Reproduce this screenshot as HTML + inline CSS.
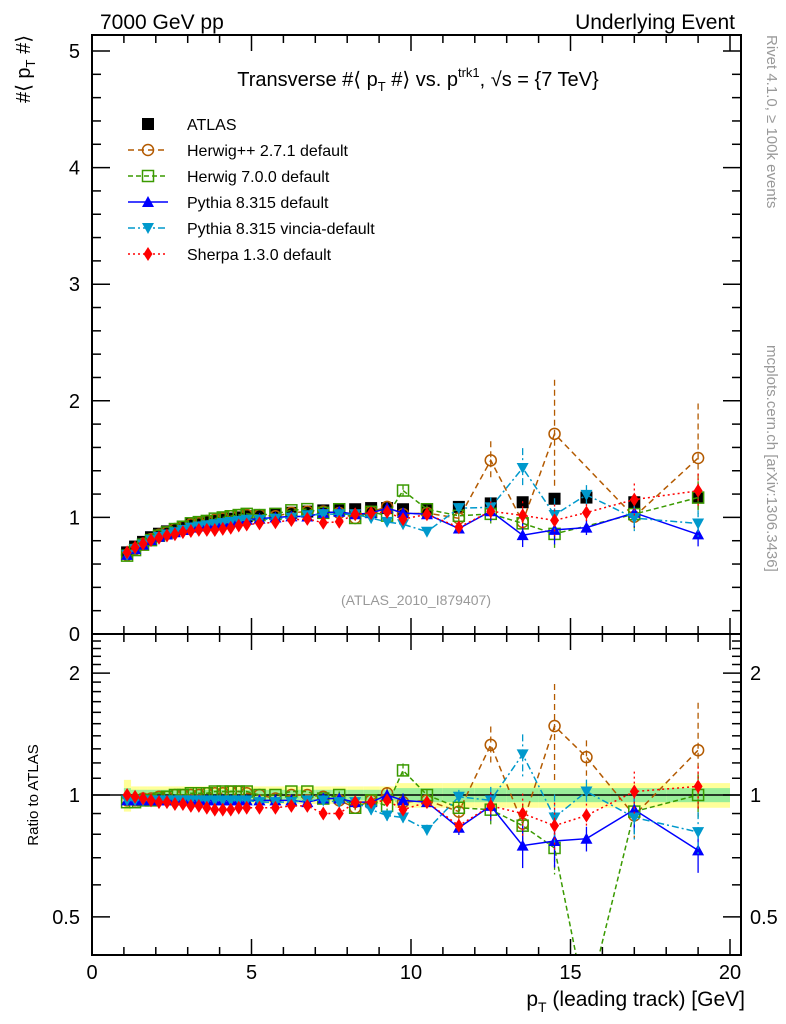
<!DOCTYPE html>
<html><head><meta charset="utf-8">
<style>
body{margin:0;background:#fff;}
svg{display:block;font-family:"Liberation Sans",sans-serif;}
</style></head><body>
<svg id="c" width="786" height="1024" xmlns="http://www.w3.org/2000/svg">
<text x="100" y="29" font-size="21">7000 GeV pp</text>
<text x="735" y="29" font-size="21" text-anchor="end">Underlying Event</text>
<text x="418" y="86" font-size="20" text-anchor="middle">Transverse #⟨ p<tspan font-size="13" dy="5">T</tspan><tspan dy="-5"> #⟩ vs. p</tspan><tspan font-size="13" dy="-9">trk1</tspan><tspan dy="9">, √s = {7 TeV}</tspan></text>
<text transform="translate(30,35) rotate(-90)" font-size="20" text-anchor="end">#⟨ p<tspan font-size="13" dy="5">T</tspan><tspan dy="-5"> #⟩</tspan></text>
<text transform="translate(38,795) rotate(-90)" font-size="15" text-anchor="middle">Ratio to ATLAS</text>
<text transform="translate(767,35) rotate(90)" font-size="15" fill="#999">Rivet 4.1.0, ≥ 100k events</text>
<text transform="translate(767,345) rotate(90)" font-size="15" fill="#999">mcplots.cern.ch [arXiv:1306.3436]</text>
<text x="416" y="605" font-size="14" fill="#999" text-anchor="middle">(ATLAS_2010_I879407)</text>
<text x="745" y="1006" font-size="21" text-anchor="end">p<tspan font-size="14" dy="6">T</tspan><tspan dy="-6"> (leading track) [GeV]</tspan></text>
<g id="g"></g>
</svg>
<script>
const xs=[1.1,1.35,1.6,1.85,2.1,2.35,2.6,2.85,3.1,3.35,3.6,3.85,4.1,4.35,4.6,4.85,5.25,5.75,6.25,6.75,7.25,7.75,8.25,8.75,9.25,9.75,10.5,11.5,12.5,13.5,14.5,15.5,17,19];
const atlas=[0.70,0.75,0.79,0.83,0.86,0.88,0.90,0.92,0.94,0.95,0.96,0.97,0.98,0.99,1.00,1.01,1.02,1.03,1.04,1.05,1.06,1.07,1.07,1.08,1.08,1.07,1.07,1.09,1.12,1.13,1.16,1.17,1.13,1.17];
const rHpp=[0.97,0.97,0.98,0.98,0.99,0.99,1.0,1.0,1.0,1.0,1.01,1.01,1.01,1.02,1.02,1.01,1.0,0.98,1.0,1.0,0.99,0.97,0.93,0.97,1.01,0.96,0.97,0.91,1.33,0.85,1.48,1.24,0.89,1.29];
const rH7=[0.96,0.96,0.97,0.97,0.98,0.99,1.0,1.0,1.01,1.01,1.01,1.02,1.02,1.02,1.02,1.02,1.0,1.0,1.02,1.02,0.98,1.0,0.93,0.97,0.94,1.15,1.0,0.93,0.92,0.84,0.74,0.3,0.91,1.0];
const rPy=[0.97,0.97,0.97,0.97,0.97,0.97,0.97,0.97,0.97,0.97,0.97,0.97,0.97,0.97,0.97,0.97,0.97,0.97,0.97,0.96,0.98,0.98,0.96,0.96,1.0,0.97,0.96,0.83,0.94,0.75,0.77,0.78,0.92,0.73];
const rVi=[0.97,0.97,0.97,0.97,0.97,0.97,0.97,0.97,0.97,0.97,0.97,0.97,0.97,0.97,0.97,0.97,0.96,0.96,0.96,0.97,0.97,0.96,0.96,0.92,0.89,0.88,0.82,0.99,0.97,1.26,0.88,1.02,0.88,0.81];
const rSh=[1.0,0.99,0.98,0.97,0.96,0.96,0.95,0.95,0.94,0.94,0.93,0.92,0.92,0.92,0.93,0.93,0.93,0.93,0.94,0.94,0.90,0.90,0.96,0.96,0.97,0.92,0.96,0.84,0.94,0.90,0.84,0.89,1.02,1.05];
const errs=[0.01,0.01,0.01,0.01,0.01,0.01,0.01,0.01,0.01,0.01,0.01,0.01,0.01,0.01,0.01,0.01,0.01,0.01,0.01,0.01,0.02,0.02,0.02,0.03,0.03,0.04,0.03,0.04,0.08,0.12,0.14,0.07,0.12,0.12];
const bigErrs=[0,0,0,0,0,0,0,0,0,0,0,0,0,0,0,0,0,0,0,0,0,0,0,0,0,0,0,0,0.11,0,0.27,0.1,0,0.31];
const xTicks=[0,5,10,15,20];
const yTicks=[0,1,2,3,4,5];
const rTicks=[0.5,1,2];

const NS="http://www.w3.org/2000/svg",G=document.getElementById('g');
const L=92,R=741,T=35,MB=634,RB=955;
const X=v=>L+31.9*v;
const Y=v=>MB-116.6*v;
const RY=v=>795-405*Math.log10(v);
function el(t,a,p){const e=document.createElementNS(NS,t);for(const k in a)e.setAttribute(k,a[k]);(p||G).appendChild(e);return e;}
const clipM=el('clipPath',{id:'cm'});el('rect',{x:L,y:T,width:R-L,height:MB-T},clipM);
const clipR=el('clipPath',{id:'cr'});el('rect',{x:L,y:MB,width:R-L,height:RB-MB},clipR);
const band=el('g',{'clip-path':'url(#cr)'});


for(let i=0;i<xs.length;i++){
 const lo=i==0?1.0:(xs[i-1]+xs[i])/2, hi=i==xs.length-1?20:(xs[i]+xs[i+1])/2;
 const ey=i==0?0.09:(i<25?0.05:0.07), eg=i==0?0.04:(i<25?0.03:0.04);
 el('rect',{x:X(lo),y:RY(1+ey),width:X(hi)-X(lo),height:RY(1-ey)-RY(1+ey),fill:'#ffff99'},band);
 el('rect',{x:X(lo),y:RY(1+eg),width:X(hi)-X(lo),height:RY(1-eg)-RY(1+eg),fill:'#99ee99'},band);
}
el('line',{x1:L,x2:R,y1:795,y2:795,stroke:'#000','stroke-width':1.5});
const series=[
 {n:'herwigpp',r:rHpp,c:'#b35a00',d:'6,4',m:'circ',lab:'Herwig++ 2.7.1 default',skip:[31],big:true},
 {n:'herwig7',r:rH7,c:'#3a9a00',d:'5,3',m:'osq',lab:'Herwig 7.0.0 default',skip:[31]},
 {n:'pythia',r:rPy,c:'#0000ff',d:'',m:'tri',lab:'Pythia 8.315 default',skip:[]},
 {n:'vincia',r:rVi,c:'#0099cc',d:'7,3,2,3',m:'dtri',lab:'Pythia 8.315 vincia-default',skip:[]},
 {n:'sherpa',r:rSh,c:'#ff0000',d:'2,3',m:'dia',lab:'Sherpa 1.3.0 default',skip:[]}];
function marker(m,x,y,c,p,name){
 let e;
 if(m=='circ')e=el('circle',{cx:x,cy:y,r:5.5,fill:'none',stroke:c,'stroke-width':1.5},p);
 else if(m=='osq')e=el('rect',{x:x-5.5,y:y-5.5,width:11,height:11,fill:'none',stroke:c,'stroke-width':1.5},p);
 else if(m=='sq')e=el('rect',{x:x-6,y:y-6,width:12,height:12,fill:c},p);
 else if(m=='tri')e=el('polygon',{points:`${x},${y-6} ${x-6},${y+5} ${x+6},${y+5}`,fill:c},p);
 else if(m=='dtri')e=el('polygon',{points:`${x},${y+6} ${x-6},${y-5} ${x+6},${y-5}`,fill:c},p);
 else e=el('polygon',{points:`${x},${y-7} ${x-4.5},${y} ${x},${y+7} ${x+4.5},${y}`,fill:c},p);
 
 
}
function drawPanel(clip,Yf,valFn,isRatio){
 const g=el('g',{'clip-path':'url(#'+clip+')'});
 if(!isRatio){
  atlas.forEach((v,i)=>{marker('sq',X(xs[i]),Yf(v),'#000',g,'atlas-point');});
 }
 series.forEach(s=>{
  const idx=xs.map((x,i)=>i).filter(i=>isRatio||!s.skip.includes(i));
  const vals=xs.map((x,i)=>valFn(s,i));
  const pl=el('polyline',{points:idx.map(i=>X(xs[i])+','+Yf(vals[i])).join(' '),fill:'none',stroke:s.c,'stroke-width':1.5,'stroke-dasharray':s.d},g);
  
  
  idx.forEach(i=>{
   const v=vals[i];
   const f=s.big&&bigErrs[i]>0?bigErrs[i]:errs[i];
   const e=f*v;
   if(f>0.015){const eb=el('line',{x1:X(xs[i]),x2:X(xs[i]),y1:Yf(v+e),y2:Yf(Math.max(v-e,0.01)),stroke:s.c,'stroke-width':1.3,'stroke-dasharray':s.d||'none'},g);
   
   }
   marker(s.m,X(xs[i]),Yf(v),s.c,g,s.n+(isRatio?'-ratio-point':'-point'));
  });
 });
}
drawPanel('cm',Y,(s,i)=>s.r[i]*atlas[i],false);
drawPanel('cr',RY,(s,i)=>s.r[i],true);
el('rect',{x:L,y:T,width:R-L,height:MB-T,fill:'none',stroke:'#000','stroke-width':2});
el('rect',{x:L,y:MB,width:R-L,height:RB-MB,fill:'none',stroke:'#000','stroke-width':2});
for(let v=0;v<=20.01;v+=1){const maj=v%5==0,len=maj?16:8;
 [[T,1],[MB,-1],[MB,1],[RB,-1]].forEach(([y,d])=>el('line',{x1:X(v),x2:X(v),y1:y,y2:y+d*len,stroke:'#000','stroke-width':1.5}));}
xTicks.forEach(v=>{const t=el('text',{x:X(v),y:979,'font-size':20,'text-anchor':'middle'});t.textContent=v;
 
 });
for(let v=0;v<=5.11;v+=0.2){const maj=Math.abs(v-Math.round(v))<0.01,len=maj?18:9;
 el('line',{x1:L,x2:L+len,y1:Y(v),y2:Y(v),stroke:'#000','stroke-width':1.5});
 el('line',{x1:R,x2:R-len,y1:Y(v),y2:Y(v),stroke:'#000','stroke-width':1.5});}
yTicks.forEach(v=>{const t=el('text',{x:80,y:Y(v)+7,'font-size':20,'text-anchor':'end'});t.textContent=v;
 
 });
for(let v=0.5;v<=2.41;v+=0.1){const maj=rTicks.some(r=>Math.abs(r-v)<0.01),len=maj?18:9;
 el('line',{x1:L,x2:L+len,y1:RY(v),y2:RY(v),stroke:'#000','stroke-width':1.5});
 el('line',{x1:R,x2:R-len,y1:RY(v),y2:RY(v),stroke:'#000','stroke-width':1.5});}
rTicks.forEach(v=>{[[80,'end'],[750,'start']].forEach(([x,a])=>{const t=el('text',{x:x,y:RY(v)+7,'font-size':20,'text-anchor':a});t.textContent=v;
 
 });});
const lg=el('g',{});


const rows=[{c:'#000',m:'sq',d:null,lab:'ATLAS'}].concat(series);
rows.forEach((s,i)=>{const y=124+26*i;
 if(s.d!==null&&s.d!==undefined)el('line',{x1:128,x2:168,y1:y,y2:y,stroke:s.c,'stroke-width':1.5,'stroke-dasharray':s.d},lg);
 marker(s.m,148,y,s.c,lg,'legend-marker');
 const t=el('text',{x:187,y:y+6,'font-size':16},lg);t.textContent=s.lab;
 
 });
</script>
</body></html>
